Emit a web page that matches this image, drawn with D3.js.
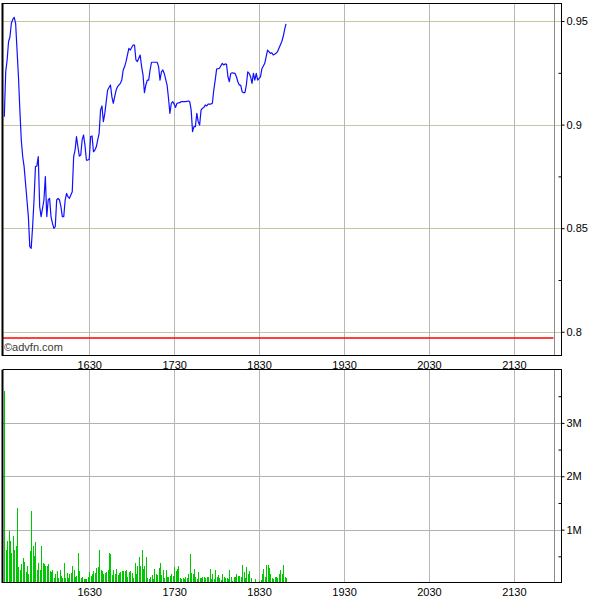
<!DOCTYPE html>
<html><head><meta charset="utf-8">
<script src="https://cdn.jsdelivr.net/npm/d3@7"></script>
<style>
body{margin:0;background:#fff}
svg{display:block}
text{font-family:"Liberation Sans",Arial,sans-serif;font-size:11px;fill:#000}
</style>
</head><body>
<svg id="chart" width="600" height="600"></svg>
<script>
// ---------- data ----------
const sessionStart = "15:30";
const xDomainTimes = ["15:30", "22:04"];
const closeMarkerTime = "21:58";
const xTickTimes = ["16:30", "17:30", "18:30", "19:30", "20:30", "21:30"];
const xTickLabels = ["1630", "1730", "1830", "1930", "2030", "2130"];
const priceTicks = [0.8, 0.85, 0.9, 0.95];
const priceTickLabels = ["0.8", "0.85", "0.9", "0.95"];
const priceMinorTicks = [0.825, 0.875, 0.925];
const volumeTicks = [1, 2, 3];
const volumeTickLabels = ["1M", "2M", "3M"];
const volumeMinorTicks = [0.5, 1.5, 2.5, 3.5];
const prevClose = 0.797;

// minutes after session start, and last price at that minute
const priceMinute = [0,1,2,3,4,5,6,7,8,9,10,11,12,13,14,15,16,17,18,19,20,21,22,23,24,25,26,27,28,29,
  30,31,32,33,34,35,36,37,38,39,40,41,42,43,44,45,46,48,49,50,51,52,53,54,55,56,57,58,59,60,
  61,62,63,64,65,66,67,68,69,70,71,72,73,75,76,77,78,79,80,82,83,84,85,86,88,89,91,92,93,94,
  95,96,97,98,99,100,101,102,103,104,106,108,109,110,111,112,113,115,116,117,118,119,120,121,
  122,124,125,128,130,131,132,133,134,135,136,137,138,139,140,141,142,143,144,146,147,148,149,
  150,152,154,155,156,157,158,159,160,161,163,164,165,166,167,168,169,170,171,172,173,174,175,
  176,177,178,179,180,181,182,184,185,186,188,189,190,191,192,193,195,196,197,198,199];
const priceValue = [0.9038,0.9255,0.9312,0.9400,0.9424,0.9489,0.9508,0.9518,0.9489,0.9360,0.9231,
  0.9070,0.8926,0.8845,0.8797,0.8717,0.8636,0.8556,0.8411,0.8403,0.8507,0.8636,0.8797,0.8800,
  0.8845,0.8604,0.8556,0.8596,0.8636,0.8749,0.8556,0.8636,0.8644,0.8556,0.8524,0.8499,0.8507,
  0.8636,0.8644,0.8636,0.8604,0.8556,0.8556,0.8636,0.8668,0.8652,0.8644,0.8676,0.8845,0.8877,
  0.8942,0.8893,0.8848,0.8853,0.8926,0.8950,0.8900,0.8829,0.8829,0.8832,0.8942,0.8945,0.8869,
  0.8877,0.8893,0.8926,0.8958,0.9070,0.9090,0.9014,0.9054,0.9111,0.9167,0.9191,0.9135,0.9103,
  0.9135,0.9167,0.9183,0.9199,0.9215,0.9264,0.9280,0.9304,0.9368,0.9360,0.9384,0.9384,0.9312,
  0.9304,0.9320,0.9336,0.9280,0.9240,0.9154,0.9191,0.9215,0.9215,0.9264,0.9301,0.9301,0.9301,
  0.9280,0.9215,0.9255,0.9264,0.9247,0.9191,0.9127,0.9054,0.9103,0.9111,0.9099,0.9083,0.9103,
  0.9106,0.9111,0.9111,0.9114,0.9111,0.9071,0.8966,0.8990,0.8990,0.9054,0.9014,0.8998,0.9070,
  0.9079,0.9083,0.9095,0.9090,0.9099,0.9099,0.9103,0.9167,0.9215,0.9268,0.9272,0.9296,0.9288,
  0.9293,0.9291,0.9231,0.9207,0.9247,0.9250,0.9247,0.9231,0.9207,0.9191,0.9191,0.9159,0.9154,
  0.9154,0.9191,0.9255,0.9247,0.9231,0.9199,0.9247,0.9215,0.9247,0.9215,0.9223,0.9231,0.9270,
  0.9296,0.9328,0.9360,0.9344,0.9347,0.9336,0.9340,0.9344,0.9352,0.9384,0.9400,0.9424,0.9457,0.9486];

// volume per minute from session start, in millions
const volumeM = [3.60,0.61,0.78,0.97,0.78,0.57,0.88,0.61,0.69,1.41,0.30,0.25,
  0.36,0.47,0.39,0.21,0.32,0.16,0.60,
  1.34,0.69,0.50,0.77,0.25,0.38,0.25,0.69,0.38,0.35,0.31,
  0.32,0.36,0.22,0.21,
  0.25,0.10,0.17,0.22,0.09,0.24,0.13,
  0.09,0.38,0.10,0.19,0.10,0.16,0.19,0.32,0.24,
  0.11,0.13,0.57,0.22,0.09,0.12,0.07,
  0.07,0.07,0.11,0.20,
  0.13,0.17,0.22,0.19,0.29,0.30,0.61,
  0.24,0.22,0.17,0.19,0.21,0.24,0.56,0.55,0.15,0.25,0.16,0.27,0.15,0.19,0.21,0.22,0.22,0.22,
  0.24,0.11,0.20,0.22,0.19,0.09,0.38,0.17,0.32,0.49,0.32,0.61,0.27,0.32,0.49,0.09,0.07,0.12,
  0.15,0.07,0.27,0.16,0.15,0.29,0.37,0.15,0.24,0.09,0.25,0.11,0.11,0.13,0.17,0.14,0.30,0.22,
  0.27,0.31,0.09,0.07,0.10,0.07,0.11,0.09,0.16,0.55,0.19,0.16,0.27,
  0.11,0.07,0.21,0.09,0.09,0.12,0.11,0.09,0.11,0.11,0.27,0.07,0.17,0.07,0.25,0.11,0.15,0.09,
  0.05,0.16,0.11,0.09,0.09,0.07,0.25,0.11,0.04,0.12,0.11,0.17,0.13,0.13,0.12,0.34,0.21,0.09,
  0.30,0.16,0.22,0.09,0.02,0.01,0.07,0.02,0.02,0.04,0.05,0.17,0.27,0.11,0.34,0.34,0.29,0.17,
  0.09,0.07,0.11,0.12,0.09,0.17,0.25,0.17,0.34,0.11,0.09];

// ---------- chart ----------
const parseT = d3.timeParse("%H:%M");
const t0 = parseT(sessionStart);
const atMinute = m => d3.timeMinute.offset(t0, m);

const L = 3, R = 562;
const pTop = 3, pBot = 356;
const vTop = 369.5, vBot = 583;

const x = d3.scaleTime().domain(xDomainTimes.map(parseT)).range([4.3, R]);
const yP = d3.scaleLinear().domain([0.7883, 0.9587]).range([pBot, pTop]);
const yV = d3.scaleLinear().domain([0, 4]).range([vBot, vTop]);

const svg = d3.select("#chart");
const crisp = v => Math.round(v) + 0.5;

// ---- price panel grid ----
const gP = svg.append("g");
gP.selectAll(".hg").data(priceTicks).join("line")
  .attr("x1", L).attr("x2", R)
  .attr("y1", d => crisp(yP(d))).attr("y2", d => crisp(yP(d)))
  .attr("stroke", "#c6c6a2").attr("stroke-width", 1);
gP.selectAll(".vg").data(xTickTimes).join("line")
  .attr("x1", d => crisp(x(parseT(d)))).attr("x2", d => crisp(x(parseT(d))))
  .attr("y1", pTop).attr("y2", pBot)
  .attr("stroke", "#b8b8b8").attr("stroke-width", 1);
gP.append("line")
  .attr("x1", crisp(x(parseT(closeMarkerTime)))).attr("x2", crisp(x(parseT(closeMarkerTime))))
  .attr("y1", pTop).attr("y2", pBot).attr("stroke", "#8c8c8c");

// previous close line
gP.append("line")
  .attr("x1", L).attr("x2", x(parseT(closeMarkerTime)))
  .attr("y1", yP(prevClose)).attr("y2", yP(prevClose))
  .attr("stroke", "#ff0000").attr("stroke-width", 1.3);

// price line
const line = d3.line().x((d, i) => x(atMinute(priceMinute[i]))).y(d => yP(d));
gP.append("path").datum(priceValue)
  .attr("d", line).attr("fill", "none")
  .attr("stroke", "#1010ff").attr("stroke-width", 1.2).attr("stroke-linejoin", "round");

// watermark
gP.append("text").attr("x", 4).attr("y", 350.5).style("fill", "#3a3a3a").text("\u00A9advfn.com");

// price frame
gP.append("path").attr("d", `M${L},${pTop + 0.5}H${R}M${L},${pBot - 0.5}H${R}`)
  .attr("stroke", "#000").attr("fill", "none");
gP.append("line").attr("x1", 2.5).attr("x2", 2.5).attr("y1", pTop).attr("y2", pBot)
  .attr("stroke", "#000").attr("stroke-width", 2);

// price right axis
const axP = svg.append("g").attr("transform", `translate(${R - 0.5},0)`)
  .call(d3.axisRight(yP).tickValues(priceTicks).tickSize(3).tickPadding(2)
    .tickFormat((d, i) => priceTickLabels[i]));
axP.select(".domain").attr("d", `M0,${pTop}V${pBot}`).attr("stroke", "#000");
axP.selectAll("text").style("font-size", "11px").attr("fill", "#000");
svg.append("g").attr("transform", `translate(${R - 0.5},0)`)
  .call(d3.axisRight(yP).tickValues(priceMinorTicks).tickSize(-3).tickFormat(""))
  .select(".domain").remove();

// price x-axis labels
const axPX = svg.append("g").attr("transform", `translate(0,${pBot})`)
  .call(d3.axisBottom(x).tickValues(xTickTimes.map(parseT)).tickSize(0).tickPadding(5)
    .tickFormat((d, i) => xTickLabels[i]));
axPX.select(".domain").remove();
axPX.selectAll("text").style("font-size", "11px").attr("fill", "#000");

// ---- volume panel ----
const gV = svg.append("g");
gV.selectAll(".hg").data(volumeTicks).join("line")
  .attr("x1", L).attr("x2", R)
  .attr("y1", d => crisp(yV(d))).attr("y2", d => crisp(yV(d)))
  .attr("stroke", "#aab6b6");
gV.selectAll(".vg").data(xTickTimes).join("line")
  .attr("x1", d => crisp(x(parseT(d)))).attr("x2", d => crisp(x(parseT(d))))
  .attr("y1", vTop).attr("y2", vBot)
  .attr("stroke", "#b8b8b8");
gV.append("line")
  .attr("x1", crisp(x(parseT(closeMarkerTime)))).attr("x2", crisp(x(parseT(closeMarkerTime))))
  .attr("y1", vTop).attr("y2", vBot).attr("stroke", "#8c8c8c");

gV.selectAll(".bar").data(volumeM).join("rect")
  .attr("x", (d, i) => Math.round(x(atMinute(i))) - 0.5)
  .attr("width", 1.2)
  .attr("y", d => yV(d))
  .attr("height", d => vBot - yV(d))
  .attr("fill", "#00c800")
  .attr("shape-rendering", "crispEdges");

gV.append("path").attr("d", `M${L},${vTop}H${R}M${L},${vBot - 0.5}H${R}`)
  .attr("stroke", "#000").attr("fill", "none");
gV.append("line").attr("x1", 2.5).attr("x2", 2.5).attr("y1", vTop).attr("y2", vBot)
  .attr("stroke", "#000").attr("stroke-width", 2);

const axV = svg.append("g").attr("transform", `translate(${R - 0.5},0)`)
  .call(d3.axisRight(yV).tickValues(volumeTicks).tickSize(3).tickPadding(2)
    .tickFormat((d, i) => volumeTickLabels[i]));
axV.select(".domain").attr("d", `M0,${vTop}V${vBot}`).attr("stroke", "#000");
axV.selectAll("text").style("font-size", "11px").attr("fill", "#000");
svg.append("g").attr("transform", `translate(${R - 0.5},0)`)
  .call(d3.axisRight(yV).tickValues(volumeMinorTicks).tickSize(-3).tickFormat(""))
  .select(".domain").remove();

const axVX = svg.append("g").attr("transform", `translate(0,${vBot})`)
  .call(d3.axisBottom(x).tickValues(xTickTimes.map(parseT)).tickSize(0).tickPadding(5)
    .tickFormat((d, i) => xTickLabels[i]));
axVX.select(".domain").remove();
axVX.selectAll("text").style("font-size", "11px").attr("fill", "#000");
</script>
</body></html>
